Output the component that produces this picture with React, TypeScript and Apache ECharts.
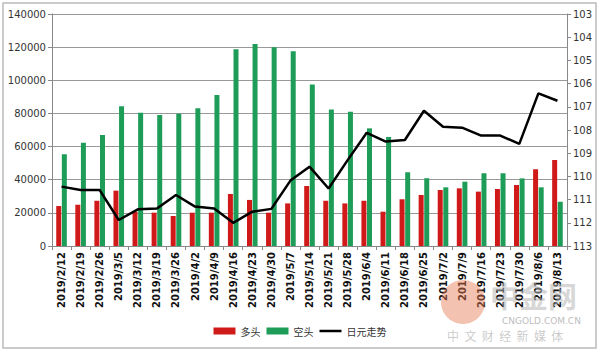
import React, { useEffect, useRef } from "react";
import * as echarts from "echarts";

const categories = [
  "2019/2/12", "2019/2/19", "2019/2/26", "2019/3/5", "2019/3/12", "2019/3/19", "2019/3/26",
  "2019/4/2", "2019/4/9", "2019/4/16", "2019/4/23", "2019/4/30", "2019/5/7", "2019/5/14",
  "2019/5/21", "2019/5/28", "2019/6/4", "2019/6/11", "2019/6/18", "2019/6/25", "2019/7/2",
  "2019/7/9", "2019/7/16", "2019/7/23", "2019/7/30", "2019/8/6", "2019/8/13",
];
const longs = [
  24100, 24900, 27300, 33400, 20700, 20100, 18100,
  20100, 20100, 31400, 27800, 20100, 25700, 36200,
  27300, 25700, 27300, 20700, 28200, 30800, 33800,
  34800, 32800, 34400, 36800, 46300, 51900,
];
const shorts = [
  55300, 62300, 67000, 84400, 80400, 79000, 79800,
  83100, 91100, 118700, 121900, 119900, 117500, 97500,
  82400, 81000, 71000, 65800, 44500, 40900, 35400,
  38800, 43900, 43900, 40800, 35400, 26700,
];
const yen = [
  110.44, 110.59, 110.59, 111.88, 111.42, 111.38, 110.8,
  111.3, 111.38, 112.0, 111.52, 111.4, 110.18, 109.58,
  110.52, 109.3, 108.12, 108.5, 108.43, 107.17, 107.86,
  107.9, 108.24, 108.24, 108.6, 106.42, 106.74,
];
const seriesNames = ["多头", "空头", "日元走势"];

const lineIcon = "path://M0,2.2 H24 V4.8 H0 Z M0,0 H0.05 V0.05 H0 Z M0,6.95 H0.05 V7 H0 Z";

export default function App() {
  const ref = useRef<HTMLDivElement>(null);
  useEffect(() => {
    if (!ref.current) return;
    const chart = echarts.init(ref.current, undefined, { renderer: "svg" });
    const axisLabelFont = { fontFamily: "DejaVu Sans", fontSize: 10, color: "#333" };
    chart.setOption({
      animation: false,
      backgroundColor: "#fff",
      grid: { left: 52, right: 33, top: 14, bottom: 106, containLabel: false },
      legend: {
        bottom: 11,
        left: "center",
        itemWidth: 22,
        itemHeight: 7,
        itemGap: 6,
        textStyle: { fontFamily: "Noto Sans CJK SC", fontSize: 10, color: "#333" },
        data: [
          { name: seriesNames[0], icon: "rect" },
          { name: seriesNames[1], icon: "rect" },
          { name: seriesNames[2], icon: lineIcon, itemStyle: { color: "#000" } },
        ],
      },
      xAxis: {
        type: "category",
        data: categories,
        boundaryGap: true,
        axisLine: { lineStyle: { color: "#888" } },
        axisTick: { show: true, alignWithLabel: false, length: 4, lineStyle: { color: "#888" } },
        axisLabel: {
          rotate: 90,
          interval: 0,
          fontFamily: "DejaVu Sans",
          fontSize: 10,
          fontWeight: "bold",
          color: "#111",
          margin: 6,
        },
      },
      yAxis: [
        {
          type: "value",
          min: 0,
          max: 140000,
          interval: 20000,
          axisLine: { show: true, lineStyle: { color: "#888" } },
          axisTick: { show: true, length: 4, lineStyle: { color: "#888" } },
          axisLabel: { ...axisLabelFont, margin: 6, formatter: (v: number) => String(v) },
          splitLine: { lineStyle: { color: "#999", width: 1 } },
        },
        {
          type: "value",
          min: 103,
          max: 113,
          interval: 1,
          inverse: true,
          position: "right",
          axisLine: { show: true, lineStyle: { color: "#888" } },
          axisTick: { show: true, length: 4, lineStyle: { color: "#888" } },
          axisLabel: { ...axisLabelFont, margin: 6, formatter: (v: number) => String(v) },
          splitLine: { show: false },
        },
      ],
      series: [
        {
          name: seriesNames[0],
          type: "bar",
          data: longs,
          barWidth: 5,
          barGap: "12%",
          itemStyle: { color: "#D01A1A" },
        },
        {
          name: seriesNames[1],
          type: "bar",
          data: shorts,
          barWidth: 5,
          barGap: "12%",
          itemStyle: { color: "#1E9D58" },
        },
        {
          name: seriesNames[2],
          type: "line",
          yAxisIndex: 1,
          data: yen,
          symbol: "none",
          lineStyle: { color: "#000", width: 2.5 },
          itemStyle: { color: "#000" },
        },
      ],
      graphic: [
        {
          type: "rect",
          shape: { x: 3, y: 3, width: 593, height: 345 },
          style: { fill: "none", stroke: "#bbb", lineWidth: 1.5 },
          z: -1,
        },
        {
          type: "circle",
          shape: { cx: 463, cy: 302, r: 22 },
          style: { fill: "rgba(230,120,80,0.45)" },
          z: 10,
        },
        {
          type: "text",
          x: 490,
          y: 280,
          style: { text: "中金网", font: "bold 29px 'Noto Sans CJK SC'", fill: "rgba(180,180,180,0.55)" },
          z: 10,
        },
        {
          type: "text",
          x: 502,
          y: 316,
          style: { text: "CNGOLD.COM.CN", font: "9px 'DejaVu Sans'", fill: "rgba(170,170,170,0.8)" },
          z: 10,
        },
        {
          type: "text",
          x: 447,
          y: 329,
          style: { text: "中  文  财  经  新  媒  体", font: "12px 'Noto Sans CJK SC'", fill: "rgba(180,180,180,0.7)" },
          z: 10,
        },
      ],
    });
    return () => chart.dispose();
  }, []);
  return <div ref={ref} style={{ width: 600, height: 352, position: "absolute", left: 0, top: 0 }} />;
}
